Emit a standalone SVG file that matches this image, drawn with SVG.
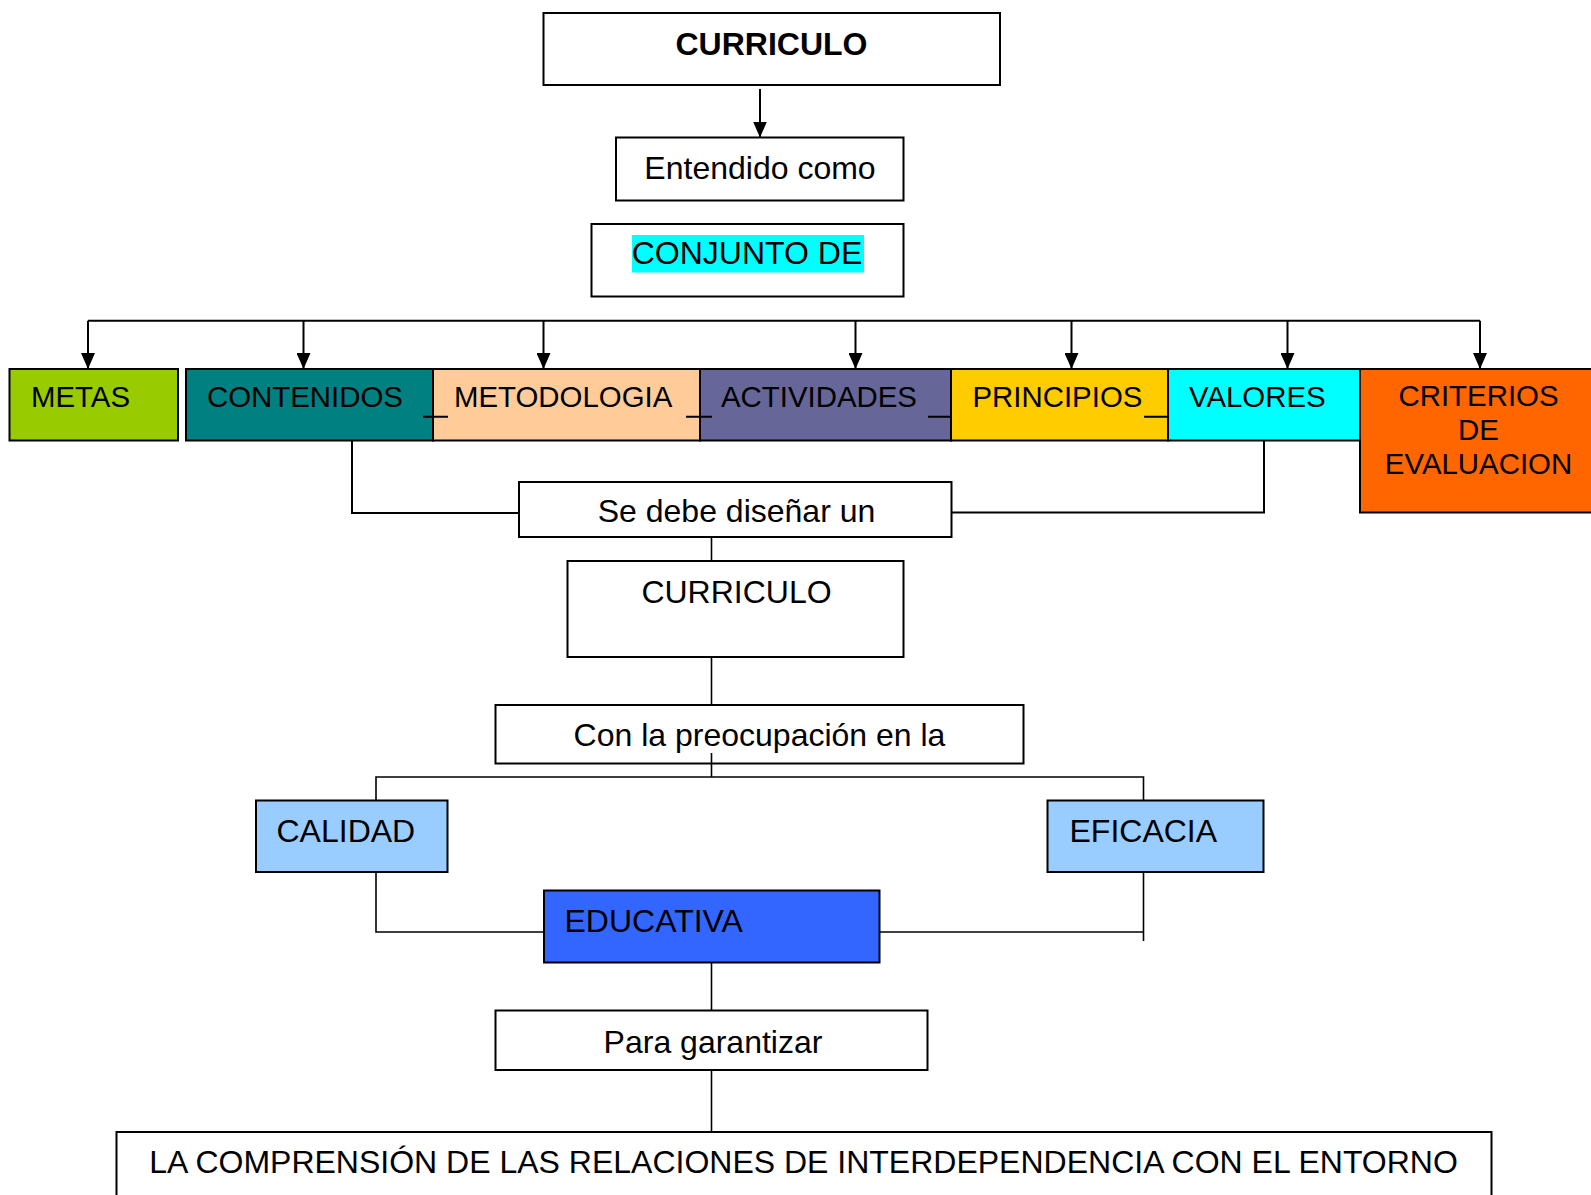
<svg xmlns="http://www.w3.org/2000/svg" width="1591" height="1195" viewBox="0 0 1591 1195">
<style>
.b{stroke:#000;stroke-width:2;}
.t{font-family:"Liberation Sans",Arial,sans-serif;font-size:32px;fill:#000;}
.r{font-family:"Liberation Sans",Arial,sans-serif;font-size:29.4px;fill:#000;}
.c{fill:none;stroke:#000;stroke-width:2;}
.c2{fill:none;stroke:#000;stroke-width:1.6;}
</style>
<defs>
<marker id="ah" markerUnits="userSpaceOnUse" markerWidth="16" markerHeight="14" refX="16" refY="7" orient="auto" viewBox="0 0 16 14">
<path d="M0,0 L16,7 L0,14 Z" fill="#000"/>
</marker>
</defs>
<rect width="1591" height="1195" fill="#fff"/>
<g id="nodes">
<g id="n-curriculo"><rect class="b" x="543.5" y="13" width="456.5" height="72" fill="#fff"/><text class="t" x="771.5" y="55" text-anchor="middle" font-weight="bold">CURRICULO</text></g>
<g id="n-entendido"><rect class="b" x="616" y="137.5" width="287.5" height="63" fill="#fff"/><text class="t" x="760" y="179" text-anchor="middle">Entendido como</text></g>
<g id="n-conjunto"><rect class="b" x="591.5" y="224" width="312" height="72.5" fill="#fff"/><rect x="632" y="235" width="232" height="37.5" fill="#00FFFF"/><text class="t" x="747" y="264" text-anchor="middle">CONJUNTO DE</text></g>
<g id="n-metas"><rect class="b" x="9.5" y="369" width="168.5" height="71.5" fill="#99CC00"/><text class="r" x="31" y="406.5">METAS</text></g>
<g id="n-contenidos"><rect class="b" x="186" y="369" width="247" height="71.5" fill="#008080"/><text class="r" x="207" y="406.5">CONTENIDOS</text></g>
<g id="n-metodologia"><rect class="b" x="433" y="369" width="267" height="71.5" fill="#FFCC99"/><text class="r" x="454" y="406.5">METODOLOGIA</text></g>
<g id="n-actividades"><rect class="b" x="700" y="369" width="251" height="71.5" fill="#666699"/><text class="r" x="721" y="406.5">ACTIVIDADES</text></g>
<g id="n-principios"><rect class="b" x="951" y="369" width="217" height="71.5" fill="#FFCC00"/><text class="r" x="972.5" y="406.5">PRINCIPIOS</text></g>
<g id="n-valores"><rect class="b" x="1168" y="369" width="192" height="71.5" fill="#00FFFF"/><text class="r" x="1189" y="406.5">VALORES</text></g>
<g id="n-criterios"><rect class="b" x="1360" y="369" width="240" height="143.5" fill="#FF6600"/><text class="r" x="1478.5" y="405.5" text-anchor="middle">CRITERIOS</text><text class="r" x="1478.5" y="440" text-anchor="middle">DE</text><text class="r" x="1478.5" y="474" text-anchor="middle">EVALUACION</text></g>
<g id="n-sedebe"><rect class="b" x="519" y="482" width="432.5" height="55" fill="#fff"/><text class="t" x="736.5" y="521.5" text-anchor="middle">Se debe diseñar un</text></g>
<g id="n-curriculo2"><rect class="b" x="567.5" y="561" width="336" height="96" fill="#fff"/><text class="t" x="736.5" y="603" text-anchor="middle">CURRICULO</text></g>
<g id="n-conla"><rect class="b" x="495.5" y="705" width="528" height="58.5" fill="#fff"/><text class="t" x="759.5" y="745.5" text-anchor="middle">Con la preocupación en la</text></g>
<g id="n-calidad"><rect class="b" x="256" y="800.5" width="191.5" height="71.5" fill="#99CCFF"/><text class="t" x="276.5" y="842">CALIDAD</text></g>
<g id="n-eficacia"><rect class="b" x="1047.5" y="800.5" width="216" height="71.5" fill="#99CCFF"/><text class="t" x="1069.5" y="842">EFICACIA</text></g>
<g id="n-educativa"><rect class="b" x="544" y="890.5" width="335.5" height="72" fill="#3366FF"/><text class="t" x="564.5" y="932">EDUCATIVA</text></g>
<g id="n-para"><rect class="b" x="495.5" y="1010.5" width="432" height="59.5" fill="#fff"/><text class="t" x="713" y="1052.5" text-anchor="middle">Para garantizar</text></g>
<g id="n-comprension"><rect class="b" x="116.5" y="1132" width="1375" height="80" fill="#fff"/><text class="t" x="803.5" y="1173" text-anchor="middle">LA COMPRENSIÓN DE LAS RELACIONES DE INTERDEPENDENCIA CON EL ENTORNO</text></g>
</g>
<g id="connectors">
<path class="c" d="M760,89 V137.5" marker-end="url(#ah)"/>
<path class="c" d="M88,320.7 H1480"/>
<path class="c" d="M88,320.7 V369" marker-end="url(#ah)"/>
<path class="c" d="M303.5,320.7 V369" marker-end="url(#ah)"/>
<path class="c" d="M543.5,320.7 V369" marker-end="url(#ah)"/>
<path class="c" d="M855.5,320.7 V369" marker-end="url(#ah)"/>
<path class="c" d="M1071.5,320.7 V369" marker-end="url(#ah)"/>
<path class="c" d="M1287.5,320.7 V369" marker-end="url(#ah)"/>
<path class="c" d="M1480,320.7 V369" marker-end="url(#ah)"/>
<path class="c" d="M423,416.7 H448 M686,416.7 H712 M928,416.7 H951 M1144,416.7 H1168"/>
<path class="c" d="M352,440.5 V513 H519"/>
<path class="c" d="M1264,440.5 V512.5 H951.5"/>
<path class="c2" d="M711.5,537 V561"/>
<path class="c2" d="M711.5,657 V705"/>
<path class="c2" d="M711.5,753 V777"/>
<path class="c2" d="M376,800.5 V777 H1143.5 V800.5"/>
<path class="c2" d="M376,872 V932 H544"/>
<path class="c2" d="M879.5,932 H1143.5"/>
<path class="c2" d="M1143.5,872 V941"/>
<path class="c2" d="M711.5,962.5 V1010.5"/>
<path class="c2" d="M711.5,1070 V1132"/>
</g>
</svg>
